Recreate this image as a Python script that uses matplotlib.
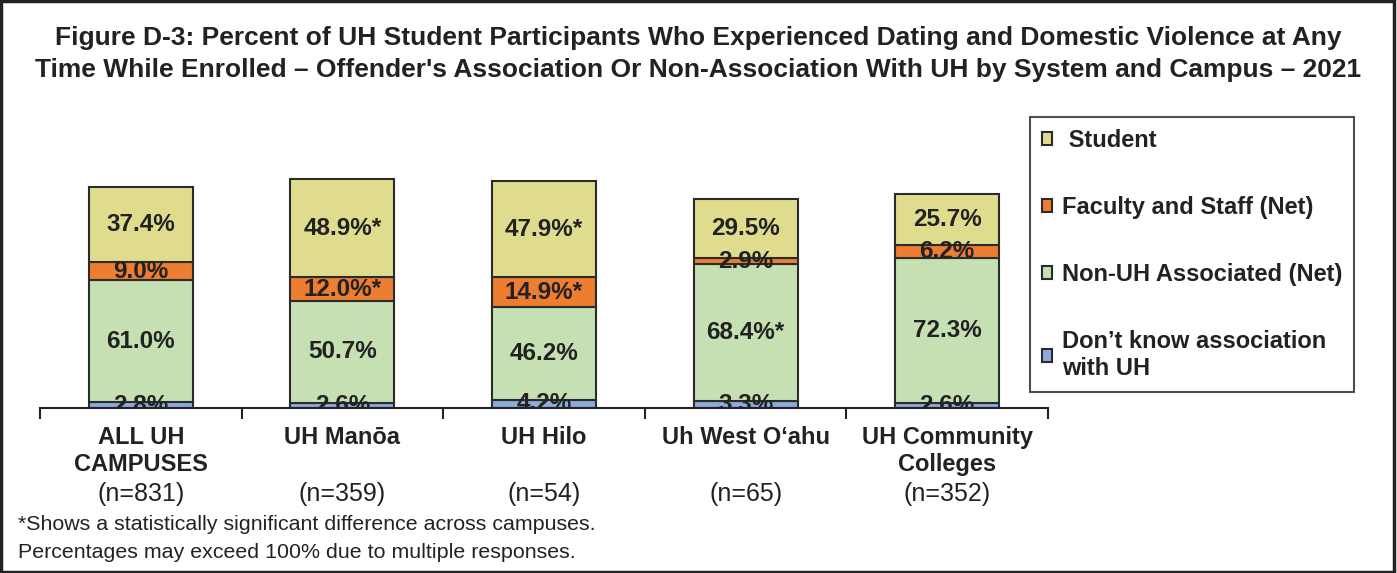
import numpy as np
import matplotlib
matplotlib.use("Agg")
import matplotlib.pyplot as plt
from matplotlib.patches import Rectangle

# --- data ---
campuses = ["ALL UH\nCAMPUSES", "UH Manōa", "UH Hilo", "Uh West O‘ahu", "UH Community\nColleges"]
sample_sizes = ["(n=831)", "(n=359)", "(n=54)", "(n=65)", "(n=352)"]

dont_know = [2.8, 2.6, 4.2, 3.3, 2.6]
non_uh = [61.0, 50.7, 46.2, 68.4, 72.3]
faculty = [9.0, 12.0, 14.9, 2.9, 6.2]
student = [37.4, 48.9, 47.9, 29.5, 25.7]

# significance flags (asterisk after the label)
dont_know_sig = [False, False, False, False, False]
non_uh_sig = [False, False, False, True, False]
faculty_sig = [False, True, True, False, False]
student_sig = [False, True, True, False, False]

series_names = ["Don’t know association\nwith UH", "Non-UH Associated (Net)",
                "Faculty and Staff (Net)", " Student"]
colors = ["#8EA9DB", "#C6E0B4", "#ED7D31", "#E0DC8E"]

W, H = 1397, 573
fig = plt.figure(figsize=(W / 100, H / 100), dpi=100)

# axes placed in pixel terms
x0, x1 = 40, 1048
y_base, y_top = 408, 168
ax = fig.add_axes([x0 / W, 1 - y_base / H, (x1 - x0) / W, (y_base - y_top) / H])

ymax = (y_base - y_top) / 2.005
x = np.arange(len(campuses))
bw = 0.515

narrow = ["Liberation Sans Narrow", "Liberation Sans", "DejaVu Sans"]
sans = ["Liberation Sans", "DejaVu Sans"]
ink = "#222222"

series = [dont_know, non_uh, faculty, student]
flags = [dont_know_sig, non_uh_sig, faculty_sig, student_sig]
bottom = np.zeros(len(campuses))
handles = []
for vals, col, name in zip(series, colors, series_names):
    vals = np.array(vals)
    b = ax.bar(x, vals, bw, bottom=bottom, color=col, edgecolor="#2b2b2b",
               linewidth=1.5, label=name, zorder=2)
    handles.append(b)
    bottom = bottom + vals

# value labels drawn over all bars, clipped at the axis line
bottom = np.zeros(len(campuses))
for vals, sig in zip(series, flags):
    for i, v in enumerate(vals):
        txt = f"{v:.1f}%" + ("*" if sig[i] else "")
        ax.text(x[i], bottom[i] + v / 2, txt, ha="center", va="center",
                fontsize=17.5, fontweight="bold", color=ink,
                family=sans, clip_on=True, zorder=5)
    bottom = bottom + np.array(vals)

ax.set_xlim(-0.5, len(campuses) - 0.5)
ax.set_ylim(0, ymax)
for s in ["top", "right", "left"]:
    ax.spines[s].set_visible(False)
ax.spines["bottom"].set_linewidth(1.5)
ax.spines["bottom"].set_color(ink)
ax.spines["bottom"].set_zorder(6)
ax.set_yticks([])
ax.set_xticks(np.arange(-0.5, len(campuses), 1.0))
ax.set_xticklabels([])
ax.tick_params(axis="x", length=8, width=1.5, color=ink, direction="out")

# category labels and sample sizes
for i, (c, n) in enumerate(zip(campuses, sample_sizes)):
    xf = (x0 + (i + 0.5) * (x1 - x0) / len(campuses)) / W
    fig.text(xf, 1 - 426 / H, c, ha="center", va="top", fontsize=17,
             fontweight="bold", family=narrow, color=ink, linespacing=1.2)
    fig.text(xf, 1 - 494 / H, n, ha="center", va="center", fontsize=18,
             family=narrow, color=ink)

fig.text(0.5, 1 - 38 / H,
         "Figure D-3: Percent of UH Student Participants Who Experienced Dating and Domestic Violence at Any",
         ha="center", va="center", fontsize=19, fontweight="bold", family=sans, color=ink)
fig.text(0.5, 1 - 70 / H,
         "Time While Enrolled – Offender's Association Or Non-Association With UH by System and Campus – 2021",
         ha="center", va="center", fontsize=19, fontweight="bold", family=sans, color=ink)

fig.text(18 / W, 1 - 525 / H, "*Shows a statistically significant difference across campuses.",
         ha="left", va="center", fontsize=15.4, family=narrow, color=ink)
fig.text(18 / W, 1 - 552 / H, "Percentages may exceed 100% due to multiple responses.",
         ha="left", va="center", fontsize=15.4, family=narrow, color=ink)

leg = fig.legend(handles[::-1], [h.get_label() for h in handles[::-1]],
                 loc="upper left", bbox_to_anchor=(1030 / W, 1 - 117 / H),
                 frameon=True, fancybox=False, edgecolor=ink,
                 prop={"family": sans, "weight": "bold", "size": 17},
                 handlelength=0.45, handleheight=0.45, handletextpad=0.4,
                 labelspacing=1.87, borderpad=0.5, borderaxespad=0)
leg.get_frame().set_linewidth(1.5)
for t in leg.get_texts():
    t.set_color(ink)
    t.set_linespacing(1.2)
leg.set_zorder(10)

# outer border
fig.add_artist(Rectangle((0.001, 0.002), 0.997, 0.996, transform=fig.transFigure,
                         fill=False, edgecolor=ink, linewidth=2.5))

fig.savefig("out.png", dpi=100)
